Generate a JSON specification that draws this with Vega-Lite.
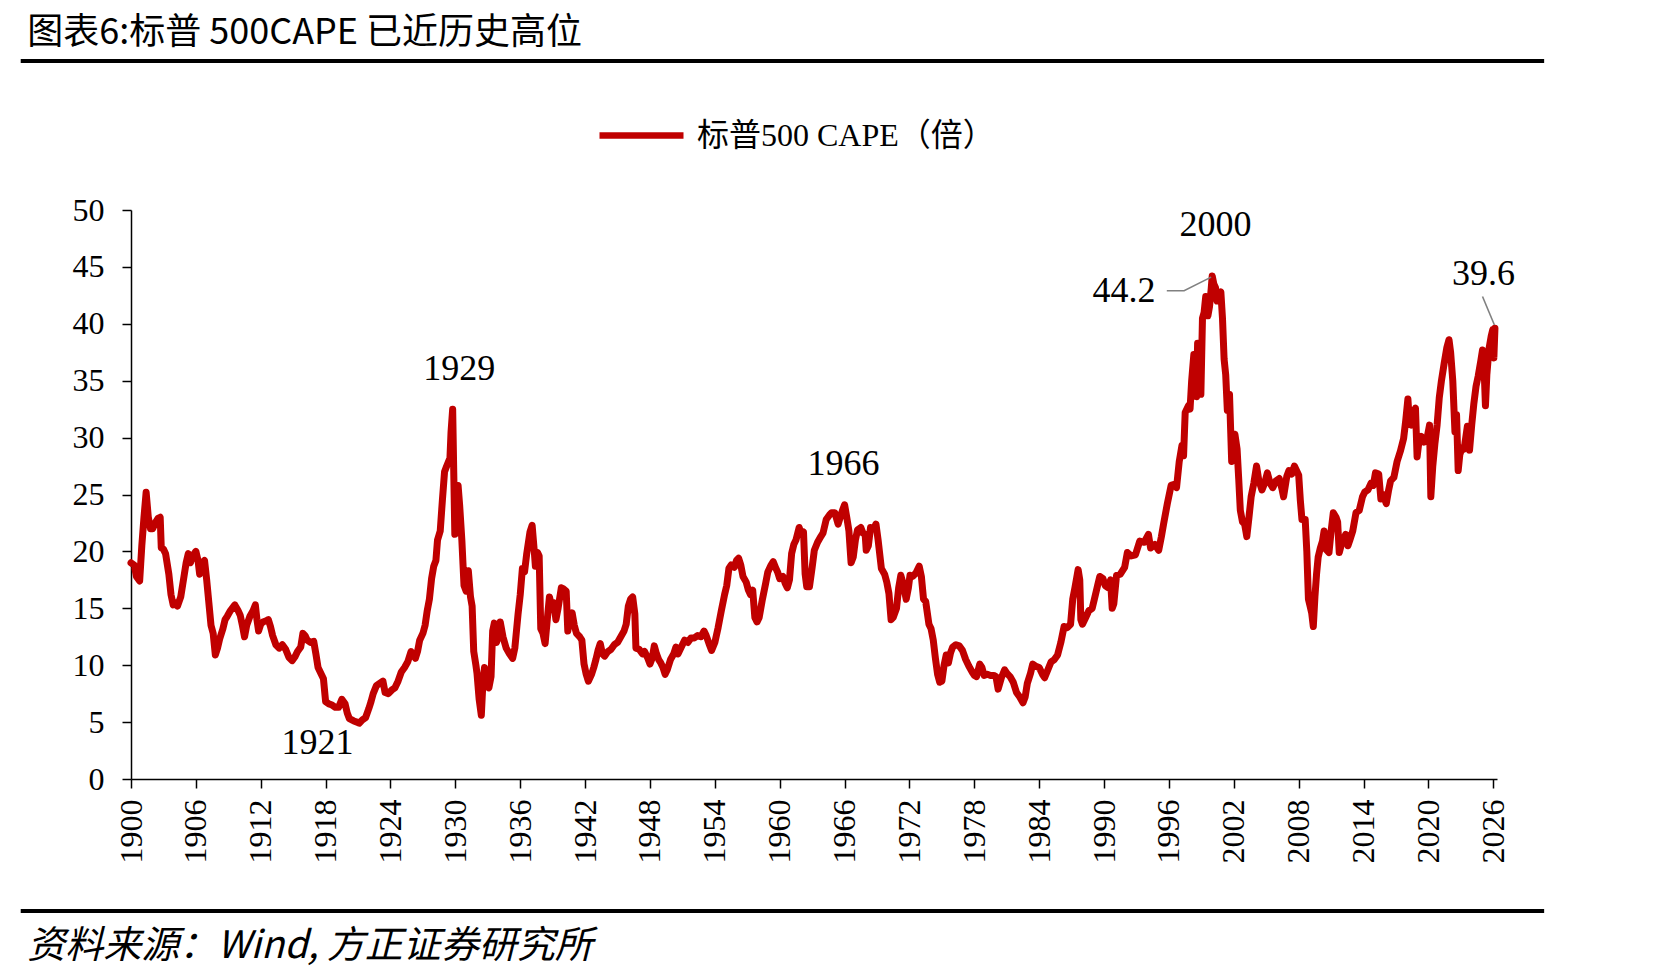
{
  "$schema": "https://vega.github.io/schema/vega-lite/v6.json",
  "autosize": {"type": "none"},
  "width": 1366,
  "height": 569,
  "padding": {"left": 131, "top": 210, "right": 174, "bottom": 201},
  "background": "white",
  "config": {
    "view": {"stroke": null},
    "axis": {
      "grid": false,
      "domainColor": "#000000",
      "domainWidth": 1.5,
      "tickColor": "#000000",
      "tickWidth": 1.5,
      "tickSize": 9,
      "labelFont": "Liberation Serif",
      "labelFontSize": 32,
      "labelColor": "#000000",
      "title": null
    }
  },
  "datasets": {
    "cape": [
      {"t":1900.0,"v":19.0},{"t":1900.3,"v":18.8},{"t":1900.5,"v":17.8},{"t":1900.8,"v":17.4},{"t":1901.0,"v":20.5},{"t":1901.2,"v":23.0},{"t":1901.4,"v":25.2},{"t":1901.6,"v":23.0},{"t":1901.8,"v":22.0},{"t":1902.0,"v":22.0},{"t":1902.3,"v":22.6},{"t":1902.5,"v":22.9},{"t":1902.7,"v":23.0},{"t":1902.8,"v":20.3},{"t":1903.0,"v":20.2},{"t":1903.2,"v":19.8},{"t":1903.5,"v":18.0},{"t":1903.7,"v":16.2},{"t":1903.9,"v":15.3},{"t":1904.1,"v":15.5},{"t":1904.3,"v":15.2},{"t":1904.6,"v":16.0},{"t":1904.9,"v":17.8},{"t":1905.1,"v":19.0},{"t":1905.3,"v":19.8},{"t":1905.5,"v":19.0},{"t":1905.7,"v":19.6},{"t":1906.0,"v":20.0},{"t":1906.2,"v":19.2},{"t":1906.35,"v":18.0},{"t":1906.6,"v":19.0},{"t":1906.8,"v":19.2},{"t":1907.0,"v":17.5},{"t":1907.2,"v":15.5},{"t":1907.4,"v":13.5},{"t":1907.6,"v":12.8},{"t":1907.8,"v":10.9},{"t":1908.0,"v":11.5},{"t":1908.2,"v":12.3},{"t":1908.5,"v":13.2},{"t":1908.7,"v":14.0},{"t":1908.9,"v":14.3},{"t":1909.2,"v":14.8},{"t":1909.6,"v":15.3},{"t":1909.9,"v":14.8},{"t":1910.1,"v":14.4},{"t":1910.3,"v":13.5},{"t":1910.5,"v":12.5},{"t":1910.7,"v":13.5},{"t":1911.0,"v":14.3},{"t":1911.3,"v":14.8},{"t":1911.5,"v":15.3},{"t":1911.65,"v":14.0},{"t":1911.8,"v":13.0},{"t":1912.0,"v":13.6},{"t":1912.2,"v":13.8},{"t":1912.5,"v":13.9},{"t":1912.7,"v":14.0},{"t":1912.9,"v":13.4},{"t":1913.1,"v":12.6},{"t":1913.4,"v":11.8},{"t":1913.7,"v":11.5},{"t":1914.0,"v":11.8},{"t":1914.3,"v":11.4},{"t":1914.6,"v":10.7},{"t":1914.9,"v":10.4},{"t":1915.2,"v":10.8},{"t":1915.4,"v":11.2},{"t":1915.7,"v":11.6},{"t":1915.9,"v":12.8},{"t":1916.1,"v":12.6},{"t":1916.3,"v":12.2},{"t":1916.6,"v":12.0},{"t":1916.9,"v":12.1},{"t":1917.1,"v":11.0},{"t":1917.3,"v":9.8},{"t":1917.6,"v":9.2},{"t":1917.8,"v":8.8},{"t":1918.0,"v":6.8},{"t":1918.3,"v":6.6},{"t":1918.6,"v":6.5},{"t":1918.9,"v":6.3},{"t":1919.2,"v":6.3},{"t":1919.5,"v":7.0},{"t":1919.8,"v":6.6},{"t":1920.0,"v":5.8},{"t":1920.2,"v":5.3},{"t":1920.6,"v":5.1},{"t":1920.9,"v":5.0},{"t":1921.1,"v":4.9},{"t":1921.4,"v":5.2},{"t":1921.7,"v":5.4},{"t":1922.0,"v":6.2},{"t":1922.2,"v":6.8},{"t":1922.4,"v":7.5},{"t":1922.7,"v":8.2},{"t":1923.0,"v":8.4},{"t":1923.3,"v":8.6},{"t":1923.5,"v":7.6},{"t":1923.8,"v":7.5},{"t":1924.1,"v":7.8},{"t":1924.4,"v":8.0},{"t":1924.7,"v":8.6},{"t":1925.0,"v":9.4},{"t":1925.3,"v":9.8},{"t":1925.6,"v":10.3},{"t":1925.9,"v":11.2},{"t":1926.1,"v":11.0},{"t":1926.3,"v":10.6},{"t":1926.5,"v":11.2},{"t":1926.7,"v":12.2},{"t":1927.0,"v":12.8},{"t":1927.2,"v":13.5},{"t":1927.4,"v":14.8},{"t":1927.6,"v":15.8},{"t":1927.8,"v":17.6},{"t":1928.0,"v":18.7},{"t":1928.2,"v":19.2},{"t":1928.35,"v":21.0},{"t":1928.6,"v":21.8},{"t":1928.8,"v":24.5},{"t":1929.0,"v":27.0},{"t":1929.2,"v":27.5},{"t":1929.5,"v":28.2},{"t":1929.6,"v":30.5},{"t":1929.75,"v":32.5},{"t":1929.85,"v":27.0},{"t":1929.95,"v":21.5},{"t":1930.1,"v":23.5},{"t":1930.25,"v":25.8},{"t":1930.4,"v":24.0},{"t":1930.6,"v":21.0},{"t":1930.8,"v":17.0},{"t":1931.0,"v":16.5},{"t":1931.2,"v":18.3},{"t":1931.4,"v":16.0},{"t":1931.55,"v":15.2},{"t":1931.7,"v":11.2},{"t":1931.9,"v":10.0},{"t":1932.0,"v":9.3},{"t":1932.2,"v":7.0},{"t":1932.4,"v":5.6},{"t":1932.55,"v":8.5},{"t":1932.7,"v":9.8},{"t":1932.9,"v":8.5},{"t":1933.1,"v":8.0},{"t":1933.3,"v":9.0},{"t":1933.45,"v":13.0},{"t":1933.6,"v":13.7},{"t":1933.8,"v":12.0},{"t":1934.0,"v":12.6},{"t":1934.15,"v":13.8},{"t":1934.4,"v":12.5},{"t":1934.7,"v":11.5},{"t":1935.0,"v":11.0},{"t":1935.3,"v":10.6},{"t":1935.5,"v":11.5},{"t":1935.8,"v":14.5},{"t":1936.0,"v":16.2},{"t":1936.2,"v":18.5},{"t":1936.4,"v":18.2},{"t":1936.6,"v":19.8},{"t":1936.9,"v":21.7},{"t":1937.1,"v":22.3},{"t":1937.3,"v":20.0},{"t":1937.4,"v":18.7},{"t":1937.6,"v":19.9},{"t":1937.75,"v":19.6},{"t":1937.9,"v":13.2},{"t":1938.1,"v":12.8},{"t":1938.3,"v":11.9},{"t":1938.5,"v":14.0},{"t":1938.7,"v":16.0},{"t":1938.9,"v":15.2},{"t":1939.1,"v":15.5},{"t":1939.3,"v":14.0},{"t":1939.5,"v":15.0},{"t":1939.8,"v":16.8},{"t":1940.0,"v":16.7},{"t":1940.25,"v":16.5},{"t":1940.4,"v":13.0},{"t":1940.6,"v":14.2},{"t":1940.8,"v":14.6},{"t":1941.0,"v":13.5},{"t":1941.2,"v":12.8},{"t":1941.5,"v":12.5},{"t":1941.7,"v":12.2},{"t":1941.9,"v":10.1},{"t":1942.1,"v":9.2},{"t":1942.3,"v":8.6},{"t":1942.6,"v":9.2},{"t":1942.8,"v":9.8},{"t":1943.0,"v":10.5},{"t":1943.2,"v":11.3},{"t":1943.4,"v":11.9},{"t":1943.6,"v":11.0},{"t":1943.8,"v":10.8},{"t":1944.1,"v":11.2},{"t":1944.4,"v":11.4},{"t":1944.7,"v":11.8},{"t":1945.0,"v":12.0},{"t":1945.3,"v":12.5},{"t":1945.6,"v":13.0},{"t":1945.8,"v":13.6},{"t":1946.0,"v":15.2},{"t":1946.2,"v":15.8},{"t":1946.4,"v":16.0},{"t":1946.6,"v":14.5},{"t":1946.7,"v":11.5},{"t":1947.0,"v":11.4},{"t":1947.3,"v":11.0},{"t":1947.5,"v":11.2},{"t":1947.8,"v":10.6},{"t":1948.0,"v":10.1},{"t":1948.2,"v":10.6},{"t":1948.4,"v":11.7},{"t":1948.6,"v":11.0},{"t":1948.8,"v":10.5},{"t":1949.0,"v":10.2},{"t":1949.2,"v":9.8},{"t":1949.4,"v":9.2},{"t":1949.6,"v":9.6},{"t":1949.9,"v":10.5},{"t":1950.2,"v":11.0},{"t":1950.4,"v":11.6},{"t":1950.6,"v":11.0},{"t":1950.9,"v":11.6},{"t":1951.2,"v":12.2},{"t":1951.5,"v":12.0},{"t":1951.8,"v":12.4},{"t":1952.1,"v":12.4},{"t":1952.4,"v":12.6},{"t":1952.7,"v":12.5},{"t":1953.0,"v":13.0},{"t":1953.2,"v":12.6},{"t":1953.5,"v":11.8},{"t":1953.7,"v":11.3},{"t":1954.0,"v":12.0},{"t":1954.3,"v":13.3},{"t":1954.6,"v":14.8},{"t":1954.9,"v":16.2},{"t":1955.1,"v":17.0},{"t":1955.3,"v":18.5},{"t":1955.5,"v":18.8},{"t":1955.8,"v":18.6},{"t":1956.0,"v":19.2},{"t":1956.2,"v":19.4},{"t":1956.4,"v":18.8},{"t":1956.6,"v":17.8},{"t":1956.9,"v":17.3},{"t":1957.1,"v":16.6},{"t":1957.3,"v":16.2},{"t":1957.5,"v":16.6},{"t":1957.7,"v":14.2},{"t":1957.9,"v":13.8},{"t":1958.1,"v":14.2},{"t":1958.4,"v":15.8},{"t":1958.7,"v":17.2},{"t":1958.9,"v":18.2},{"t":1959.2,"v":18.8},{"t":1959.4,"v":19.1},{"t":1959.6,"v":18.6},{"t":1959.8,"v":18.2},{"t":1960.0,"v":17.6},{"t":1960.3,"v":17.8},{"t":1960.5,"v":17.2},{"t":1960.7,"v":16.8},{"t":1960.9,"v":17.5},{"t":1961.1,"v":19.8},{"t":1961.3,"v":20.6},{"t":1961.5,"v":21.0},{"t":1961.8,"v":22.1},{"t":1962.0,"v":21.5},{"t":1962.2,"v":21.7},{"t":1962.35,"v":18.0},{"t":1962.5,"v":16.9},{"t":1962.75,"v":16.9},{"t":1963.0,"v":18.6},{"t":1963.2,"v":20.1},{"t":1963.5,"v":20.8},{"t":1963.8,"v":21.3},{"t":1964.0,"v":21.6},{"t":1964.3,"v":22.8},{"t":1964.6,"v":23.2},{"t":1964.8,"v":23.4},{"t":1965.1,"v":23.4},{"t":1965.4,"v":22.4},{"t":1965.6,"v":23.0},{"t":1965.8,"v":23.6},{"t":1966.0,"v":24.1},{"t":1966.2,"v":23.0},{"t":1966.4,"v":21.8},{"t":1966.6,"v":19.0},{"t":1966.8,"v":19.5},{"t":1967.0,"v":21.0},{"t":1967.2,"v":21.9},{"t":1967.5,"v":22.1},{"t":1967.7,"v":21.6},{"t":1967.9,"v":21.5},{"t":1968.0,"v":20.1},{"t":1968.2,"v":20.5},{"t":1968.4,"v":22.1},{"t":1968.7,"v":22.0},{"t":1968.9,"v":22.4},{"t":1969.1,"v":21.0},{"t":1969.4,"v":18.5},{"t":1969.7,"v":18.0},{"t":1969.9,"v":17.3},{"t":1970.1,"v":16.3},{"t":1970.3,"v":14.0},{"t":1970.5,"v":14.2},{"t":1970.8,"v":15.0},{"t":1971.0,"v":16.8},{"t":1971.2,"v":17.9},{"t":1971.4,"v":17.2},{"t":1971.7,"v":15.8},{"t":1971.9,"v":16.8},{"t":1972.05,"v":17.9},{"t":1972.3,"v":17.8},{"t":1972.6,"v":18.1},{"t":1972.9,"v":18.7},{"t":1973.1,"v":17.8},{"t":1973.3,"v":15.8},{"t":1973.5,"v":15.6},{"t":1973.8,"v":13.6},{"t":1974.0,"v":13.2},{"t":1974.2,"v":12.2},{"t":1974.4,"v":10.6},{"t":1974.6,"v":9.2},{"t":1974.8,"v":8.5},{"t":1975.0,"v":8.6},{"t":1975.2,"v":10.0},{"t":1975.4,"v":10.9},{"t":1975.6,"v":10.2},{"t":1975.8,"v":11.1},{"t":1976.0,"v":11.6},{"t":1976.3,"v":11.8},{"t":1976.6,"v":11.7},{"t":1976.9,"v":11.3},{"t":1977.2,"v":10.5},{"t":1977.5,"v":9.9},{"t":1977.8,"v":9.4},{"t":1978.0,"v":9.1},{"t":1978.2,"v":9.0},{"t":1978.5,"v":10.1},{"t":1978.7,"v":9.8},{"t":1978.9,"v":9.1},{"t":1979.2,"v":9.2},{"t":1979.5,"v":9.1},{"t":1979.8,"v":9.1},{"t":1980.0,"v":9.0},{"t":1980.2,"v":7.9},{"t":1980.5,"v":8.9},{"t":1980.8,"v":9.6},{"t":1981.0,"v":9.3},{"t":1981.3,"v":9.0},{"t":1981.6,"v":8.5},{"t":1981.9,"v":7.6},{"t":1982.2,"v":7.2},{"t":1982.5,"v":6.7},{"t":1982.7,"v":7.2},{"t":1982.9,"v":8.4},{"t":1983.2,"v":9.3},{"t":1983.4,"v":10.1},{"t":1983.7,"v":9.9},{"t":1984.0,"v":9.8},{"t":1984.3,"v":9.2},{"t":1984.5,"v":8.9},{"t":1984.8,"v":9.6},{"t":1985.1,"v":10.3},{"t":1985.4,"v":10.5},{"t":1985.7,"v":10.9},{"t":1986.0,"v":12.0},{"t":1986.3,"v":13.4},{"t":1986.6,"v":13.3},{"t":1986.9,"v":13.6},{"t":1987.1,"v":15.8},{"t":1987.3,"v":16.8},{"t":1987.6,"v":18.4},{"t":1987.75,"v":17.5},{"t":1987.85,"v":14.0},{"t":1988.0,"v":13.6},{"t":1988.3,"v":14.2},{"t":1988.6,"v":14.8},{"t":1988.9,"v":15.0},{"t":1989.1,"v":15.8},{"t":1989.4,"v":17.0},{"t":1989.6,"v":17.8},{"t":1989.9,"v":17.6},{"t":1990.1,"v":17.0},{"t":1990.4,"v":16.8},{"t":1990.6,"v":17.5},{"t":1990.75,"v":15.0},{"t":1990.9,"v":15.4},{"t":1991.15,"v":17.9},{"t":1991.5,"v":18.0},{"t":1991.9,"v":18.6},{"t":1992.15,"v":19.9},{"t":1992.5,"v":19.6},{"t":1992.9,"v":19.7},{"t":1993.3,"v":20.9},{"t":1993.7,"v":20.8},{"t":1994.1,"v":21.5},{"t":1994.3,"v":20.3},{"t":1994.7,"v":20.6},{"t":1995.05,"v":20.1},{"t":1995.3,"v":21.3},{"t":1995.5,"v":22.4},{"t":1995.85,"v":24.2},{"t":1996.2,"v":25.8},{"t":1996.5,"v":25.9},{"t":1996.7,"v":25.6},{"t":1996.95,"v":27.9},{"t":1997.2,"v":29.3},{"t":1997.35,"v":28.4},{"t":1997.5,"v":32.2},{"t":1997.8,"v":32.8},{"t":1997.95,"v":32.5},{"t":1998.1,"v":35.0},{"t":1998.3,"v":37.3},{"t":1998.45,"v":35.5},{"t":1998.55,"v":33.6},{"t":1998.65,"v":38.3},{"t":1998.8,"v":36.0},{"t":1998.95,"v":33.8},{"t":1999.1,"v":40.5},{"t":1999.25,"v":41.0},{"t":1999.4,"v":42.4},{"t":1999.6,"v":40.7},{"t":1999.75,"v":41.5},{"t":1999.9,"v":43.0},{"t":2000.0,"v":44.2},{"t":2000.15,"v":43.5},{"t":2000.3,"v":43.2},{"t":2000.45,"v":42.0},{"t":2000.6,"v":42.5},{"t":2000.8,"v":42.8},{"t":2000.95,"v":40.5},{"t":2001.1,"v":36.9},{"t":2001.25,"v":35.5},{"t":2001.4,"v":32.4},{"t":2001.6,"v":33.8},{"t":2001.8,"v":27.9},{"t":2001.95,"v":29.5},{"t":2002.1,"v":30.3},{"t":2002.3,"v":29.0},{"t":2002.45,"v":26.4},{"t":2002.6,"v":23.6},{"t":2002.8,"v":22.6},{"t":2003.0,"v":22.4},{"t":2003.2,"v":21.3},{"t":2003.4,"v":23.0},{"t":2003.6,"v":24.8},{"t":2003.85,"v":26.0},{"t":2004.1,"v":27.5},{"t":2004.3,"v":26.3},{"t":2004.6,"v":25.4},{"t":2004.85,"v":26.0},{"t":2005.1,"v":26.9},{"t":2005.35,"v":26.0},{"t":2005.6,"v":25.6},{"t":2005.9,"v":26.2},{"t":2006.2,"v":26.4},{"t":2006.45,"v":25.5},{"t":2006.6,"v":24.8},{"t":2006.9,"v":26.6},{"t":2007.1,"v":27.1},{"t":2007.35,"v":26.8},{"t":2007.6,"v":27.5},{"t":2007.85,"v":27.0},{"t":2008.0,"v":26.7},{"t":2008.15,"v":24.5},{"t":2008.3,"v":22.8},{"t":2008.6,"v":22.8},{"t":2008.75,"v":20.0},{"t":2008.9,"v":15.8},{"t":2009.05,"v":15.2},{"t":2009.2,"v":14.6},{"t":2009.35,"v":13.4},{"t":2009.5,"v":16.0},{"t":2009.65,"v":18.0},{"t":2009.8,"v":19.5},{"t":2010.0,"v":20.3},{"t":2010.2,"v":20.9},{"t":2010.35,"v":21.8},{"t":2010.5,"v":20.2},{"t":2010.8,"v":19.9},{"t":2011.0,"v":21.8},{"t":2011.2,"v":23.4},{"t":2011.45,"v":23.0},{"t":2011.6,"v":22.6},{"t":2011.75,"v":19.9},{"t":2012.0,"v":20.8},{"t":2012.35,"v":21.5},{"t":2012.55,"v":20.5},{"t":2012.7,"v":20.9},{"t":2013.0,"v":21.8},{"t":2013.3,"v":23.4},{"t":2013.6,"v":23.6},{"t":2013.9,"v":24.8},{"t":2014.1,"v":25.2},{"t":2014.4,"v":25.4},{"t":2014.7,"v":26.0},{"t":2014.9,"v":25.8},{"t":2015.1,"v":26.9},{"t":2015.4,"v":26.8},{"t":2015.6,"v":24.6},{"t":2015.8,"v":25.0},{"t":2016.1,"v":24.2},{"t":2016.3,"v":25.3},{"t":2016.5,"v":26.2},{"t":2016.8,"v":26.5},{"t":2017.1,"v":27.9},{"t":2017.4,"v":28.8},{"t":2017.7,"v":29.9},{"t":2017.9,"v":31.5},{"t":2018.1,"v":33.4},{"t":2018.25,"v":31.2},{"t":2018.4,"v":31.1},{"t":2018.6,"v":32.0},{"t":2018.8,"v":32.6},{"t":2018.95,"v":28.3},{"t":2019.1,"v":29.5},{"t":2019.35,"v":30.1},{"t":2019.6,"v":29.6},{"t":2019.9,"v":30.1},{"t":2020.1,"v":31.1},{"t":2020.22,"v":24.8},{"t":2020.4,"v":27.5},{"t":2020.6,"v":29.5},{"t":2020.8,"v":31.1},{"t":2021.0,"v":33.5},{"t":2021.2,"v":35.0},{"t":2021.45,"v":36.5},{"t":2021.7,"v":37.9},{"t":2021.9,"v":38.6},{"t":2022.05,"v":37.5},{"t":2022.25,"v":35.0},{"t":2022.45,"v":30.5},{"t":2022.6,"v":32.0},{"t":2022.75,"v":27.1},{"t":2022.9,"v":28.5},{"t":2023.1,"v":29.1},{"t":2023.3,"v":29.0},{"t":2023.6,"v":31.0},{"t":2023.8,"v":28.9},{"t":2024.0,"v":31.1},{"t":2024.2,"v":33.0},{"t":2024.4,"v":34.5},{"t":2024.6,"v":35.4},{"t":2024.85,"v":36.8},{"t":2025.0,"v":37.7},{"t":2025.15,"v":36.0},{"t":2025.27,"v":32.8},{"t":2025.4,"v":35.5},{"t":2025.6,"v":37.8},{"t":2025.8,"v":38.9},{"t":2025.95,"v":39.5},{"t":2026.05,"v":37.0},{"t":2026.15,"v":39.6}
    ],
    "ann": [
      {"label":"1929","t":1930.35,"v":36.0},
      {"label":"1921","t":1917.25,"v":3.16},
      {"label":"1966","t":1965.9,"v":27.7},
      {"label":"2000","t":2000.3,"v":48.7},
      {"label":"44.2","t":1991.85,"v":42.9},
      {"label":"39.6","t":2025.1,"v":44.4}
    ],
    "leader": [
      {"seg":"a","t":1995.8,"v":42.9},{"seg":"a","t":1997.4,"v":42.9},{"seg":"a","t":1999.9,"v":44.1},
      {"seg":"b","t":2025.0,"v":42.4},{"seg":"b","t":2026.1,"v":39.9}
    ],
    "heading": [{"label":"图表6:标普 500CAPE 已近历史高位","t":1890.4,"v":64.55}],
    "source": [{"label":"资料来源：Wind, 方正证券研究所","t":1890.4,"v":-14.8}],
    "hr": [{"t":1889.8,"t2":2030.7,"v":63.1},{"t":1889.8,"t2":2030.7,"v":-11.6}]
  },
  "encoding": {
    "x": {"field":"t","type":"quantitative","scale":{"domain":[1900,2026.34],"nice":false,"zero":false},
      "axis":{"values":[1900,1906,1912,1918,1924,1930,1936,1942,1948,1954,1960,1966,1972,1978,1984,1990,1996,2002,2008,2014,2020,2026],"format":"d","labelAngle":270,"labelPadding":11}},
    "y": {"field":"v","type":"quantitative","scale":{"domain":[0,50],"nice":false},
      "axis":{"values":[0,5,10,15,20,25,30,35,40,45,50],"labelPadding":18}}
  },
  "layer": [
    {
      "data": {"name":"cape"},
      "mark": {"type":"line","strokeWidth":7,"strokeJoin":"round","strokeCap":"round","clip":false},
      "encoding": {
        "color": {"datum":"标普500 CAPE（倍）","type":"nominal","scale":{"range":["#C00000"]},
          "legend":{"title":null,"orient":"none","legendX":465,"legendY":-120,"symbolType":"stroke","symbolSize":7056,"symbolStrokeWidth":6.5,"labelFont":"Liberation Serif, Noto Sans CJK SC","labelFontSize":32,"labelColor":"#000000","labelOffset":10,"labelLimit":0,"padding":0}}
      }
    },
    {
      "data": {"name":"leader"},
      "mark": {"type":"line","color":"#808080","strokeWidth":1.6,"clip":false},
      "encoding": {"detail":{"field":"seg"}}
    },
    {
      "data": {"name":"ann"},
      "mark": {"type":"text","font":"Liberation Serif","fontSize":36,"color":"#000000","align":"center","baseline":"middle","clip":false},
      "encoding": {"text":{"field":"label"}}
    },
    {
      "data": {"name":"heading"},
      "mark": {"type":"text","font":"Noto Sans CJK SC","fontSize":36,"color":"#000000","align":"left","baseline":"alphabetic","clip":false},
      "encoding": {"text":{"field":"label"}}
    },
    {
      "data": {"name":"hr"},
      "mark": {"type":"rule","color":"#000000","strokeWidth":4,"clip":false},
      "encoding": {"x2":{"field":"t2"}}
    },
    {
      "data": {"name":"source"},
      "mark": {"type":"text","font":"Noto Sans CJK SC","fontSize":38,"fontStyle":"italic","color":"#000000","align":"left","baseline":"middle","clip":false},
      "encoding": {"text":{"field":"label"}}
    }
  ]
}
